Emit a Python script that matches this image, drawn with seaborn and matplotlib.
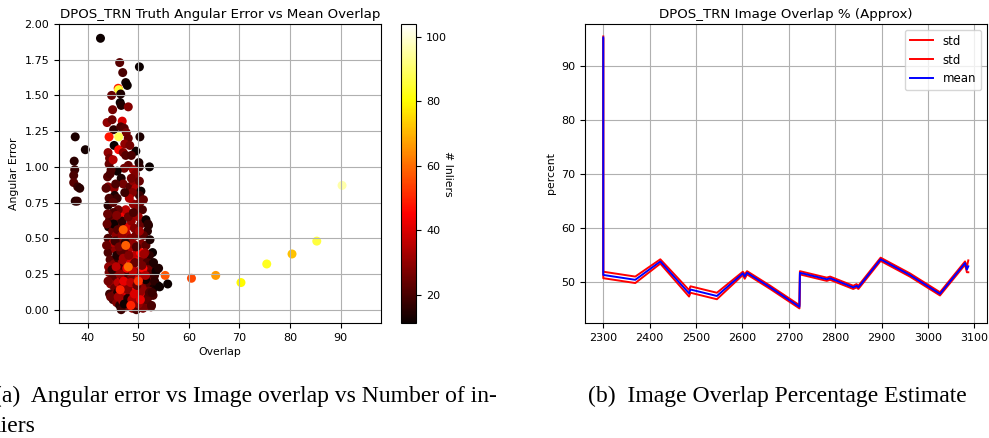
import matplotlib
matplotlib.use("Agg")
import matplotlib.pyplot as plt
import matplotlib.colors as mcolors
import matplotlib.cm as cm
import seaborn as sns
import pandas as pd

# ---------------- data: scatter (overlap, angular error, # inliers) ----------------
overlap = [
    37.5, 39.5, 37.3, 37.4, 37.2, 37.2, 38.0, 38.4, 37.5, 37.9,
    42.5, 50.2, 46.3, 46.9, 47.5, 47.8, 46.0, 46.1, 46.5, 44.7, 46.4, 46.6, 48.0, 44.9, 43.8, 46.8,
    44.8, 45.1, 46.5, 47.2, 47.6, 44.2, 46.1, 50.3, 48.0, 45.2, 46.1, 49.5, 47.3, 48.3, 47.0, 44.0,
    44.3, 44.2, 45.0, 47.5, 48.6, 50.1, 50.2, 52.2, 48.0, 47.2, 45.8, 46.6, 49.0, 49.4, 44.6, 43.9,
    44.0, 45.2, 47.0, 48.3, 49.0, 49.5, 50.5, 50.2, 48.8, 45.3, 44.2, 45.8, 46.8, 47.5, 49.0, 50.3,
    51.0, 44.0, 45.0, 48.2, 49.8, 46.0, 45.0, 48.5, 50.8, 50.0, 44.6,
    44.3, 45.5, 46.2, 47.8, 48.6, 49.2, 50.5, 51.5, 52.0, 51.8, 51.0, 44.1, 44.9, 45.6, 46.5,
    47.6, 48.4, 49.5, 50.2, 44.0, 45.1, 46.8, 48.0, 49.0, 43.9, 45.7,
    44.0, 44.8, 45.5, 46.3, 47.0, 48.2, 49.0, 49.8, 50.6, 51.5, 52.3, 52.8, 52.2, 51.3, 44.4,
    45.2, 46.0, 46.8, 47.6, 48.4, 49.2, 50.0, 50.8, 51.7, 52.4, 44.1, 45.7, 47.2, 48.9, 50.4, 49.6,
    46.5, 45.0, 51.9,
    44.2, 45.0, 45.8, 46.5, 47.2, 48.0, 48.8, 49.5, 50.2, 51.0, 51.8, 52.5, 53.2, 44.5, 45.3, 46.0,
    46.8, 47.5, 48.3, 49.1, 49.9, 50.7, 51.5, 52.3, 53.0, 53.8, 53.2, 44.3, 45.1, 45.9, 46.7, 47.4,
    48.1, 48.9, 49.7, 50.5, 51.3, 52.1, 52.9, 49.3, 47.9, 46.3, 50.9, 44.8, 51.4, 48.6, 47.0,
    45.0, 45.7, 46.3, 46.9, 47.5, 48.2, 48.8, 49.4, 50.0, 50.6, 51.2, 51.8, 52.5, 46.6, 47.9, 49.0,
    50.3, 51.6, 44.5, 46.0, 49.6, 50.9, 47.2, 52.0,
    45.6, 46.4, 47.1, 47.9, 48.7, 49.3, 50.1, 50.8, 51.6, 45.4, 46.2, 47.0, 47.7, 48.5, 49.2, 50.0,
    50.7, 51.4, 52.2, 45.9, 46.7, 47.4, 48.1, 48.9, 49.7, 50.4, 51.1, 45.5, 47.3, 48.6, 50.2,
    43.6, 43.8, 44.0, 53.5, 52.7, 53.0, 52.6, 43.7, 44.4, 51.9,
    47.0, 47.5, 48.0, 48.5, 46.4, 50.0,
    55.3, 55.8, 54.2, 54.0, 60.5, 65.3, 70.3, 75.4, 80.4, 85.3, 90.3,
]
angular_error = [
    1.21, 1.12, 1.04, 0.98, 0.94, 0.89, 0.86, 0.85, 0.76, 0.76,
    1.90, 1.70, 1.73, 1.66, 1.59, 1.57, 1.55, 1.54, 1.51, 1.50, 1.45, 1.43, 1.42, 1.40, 1.31, 1.32,
    1.33, 1.26, 1.28, 1.27, 1.24, 1.21, 1.21, 1.21, 1.20, 1.15, 1.12, 1.11, 1.16, 1.15, 1.10, 1.10,
    1.06, 1.02, 1.05, 1.08, 1.08, 1.03, 1.00, 1.00, 1.01, 0.99, 0.97, 0.92, 0.98, 0.95, 0.98, 0.93,
    0.86, 0.85, 0.88, 0.86, 0.90, 0.85, 0.83, 0.80, 0.82, 0.80, 0.78, 0.78, 0.68, 0.70, 0.74, 0.75,
    0.77, 0.73, 0.75, 0.78, 0.70, 0.70, 0.68, 0.66, 0.70, 0.65, 0.64,
    0.63, 0.62, 0.60, 0.58, 0.62, 0.57, 0.60, 0.63, 0.59, 0.55, 0.52, 0.58, 0.55, 0.52, 0.50,
    0.53, 0.50, 0.52, 0.55, 0.50, 0.60, 0.62, 0.65, 0.68, 0.67, 0.66,
    0.40, 0.45, 0.42, 0.47, 0.44, 0.43, 0.46, 0.42, 0.46, 0.45, 0.49, 0.40, 0.38, 0.40, 0.35,
    0.32, 0.36, 0.33, 0.37, 0.35, 0.38, 0.34, 0.36, 0.33, 0.31, 0.30, 0.38, 0.40, 0.31, 0.40, 0.44,
    0.41, 0.47, 0.28,
    0.26, 0.23, 0.27, 0.24, 0.28, 0.22, 0.26, 0.23, 0.27, 0.24, 0.22, 0.25, 0.24, 0.18, 0.15, 0.19,
    0.16, 0.20, 0.17, 0.19, 0.15, 0.19, 0.16, 0.18, 0.15, 0.17, 0.20, 0.11, 0.10, 0.12, 0.11, 0.13,
    0.10, 0.12, 0.10, 0.12, 0.11, 0.13, 0.10, 0.26, 0.27, 0.29, 0.29, 0.28, 0.21, 0.21, 0.23,
    0.07, 0.05, 0.03, 0.06, 0.02, 0.05, 0.01, 0.06, 0.03, 0.06, 0.02, 0.05, 0.02, 0.00, 0.08, 0.09,
    0.09, 0.08, 0.09, 0.09, -0.00, 0.01, 0.04, 0.09,
    0.30, 0.25, 0.20, 0.14, 0.07, 0.33, 0.22, 0.14, 0.07, 0.48, 0.44, 0.36, 0.29, 0.19, 0.11, 0.04,
    0.31, 0.24, 0.12, 0.56, 0.52, 0.47, 0.38, 0.27, 0.17, 0.07, 0.39, 0.88, 0.82, 0.92, 0.90,
    0.85, 0.60, 0.20, 0.27, 0.12, 0.33, 0.03, 0.45, 0.95, 0.60,
    0.56, 0.45, 0.30, 0.03, 0.14, 0.20,
    0.24, 0.18, 0.16, 0.29, 0.22, 0.24, 0.19, 0.32, 0.39, 0.48, 0.87,
]
inliers = [
    14, 13, 16, 18, 20, 22, 18, 16, 15, 17,
    12, 11, 22, 20, 13, 12, 50, 85, 14, 24, 12, 14, 28, 26, 30, 40,
    25, 16, 20, 22, 26, 48, 88, 14, 24, 11, 46, 12, 30, 26, 28, 30,
    26, 24, 35, 22, 20, 14, 16, 11, 24, 26, 12, 14, 32, 28, 20, 22,
    28, 30, 26, 22, 30, 34, 12, 18, 28, 14, 20, 18, 44, 36, 30, 26,
    24, 15, 22, 34, 28, 24, 20, 38, 20, 32, 18,
    20, 26, 22, 40, 30, 28, 24, 12, 14, 16, 22, 14, 24, 30, 18,
    34, 28, 26, 32, 20, 12, 16, 24, 20, 24, 28,
    20, 24, 30, 26, 38, 34, 30, 24, 28, 22, 14, 12, 16, 30, 22,
    28, 18, 32, 26, 40, 36, 42, 26, 20, 18, 30, 14, 24, 30, 46, 20,
    22, 34, 26,
    26, 22, 28, 34, 30, 40, 36, 44, 38, 30, 26, 22, 18, 30, 24, 36,
    28, 42, 32, 48, 34, 40, 28, 20, 14, 12, 16, 18, 26, 14, 30, 38,
    44, 46, 32, 42, 36, 24, 20, 24, 18, 20, 46, 16, 12, 26, 20,
    20, 28, 16, 34, 26, 40, 30, 44, 38, 46, 34, 28, 22, 18, 14, 24,
    30, 40, 24, 32, 20, 26, 12, 20,
    36, 30, 42, 28, 34, 24, 38, 30, 22, 18, 26, 32, 44, 36, 40, 30,
    26, 34, 20, 22, 30, 16, 28, 36, 24, 42, 32, 20, 18, 26, 24,
    22, 24, 26, 12, 18, 14, 20, 24, 20, 16,
    58, 58, 60, 50, 50, 52,
    57, 11, 12, 14, 55, 66, 80, 83, 72, 86, 96,
]

# ---------------- data: line plot (frame, overlap %) ----------------
frame = [2300, 2300, 2369, 2423, 2485, 2488, 2545, 2601, 2605, 2610, 2660, 2723,
         2724, 2782, 2789, 2839, 2846, 2850, 2898, 2961, 3026, 3080, 3084, 3087]
mean_pct = [95.3, 51.3, 50.4, 53.8, 47.9, 48.6, 47.4, 51.6, 51.0, 51.7, 49.0, 45.4,
            51.7, 50.5, 50.7, 49.0, 49.3, 49.0, 54.2, 51.3, 47.8, 53.5, 52.3, 52.9]
std_upper = [95.5, 51.9, 51.0, 54.2, 48.5, 49.2, 48.0, 51.9, 51.4, 52.0, 49.3, 45.7,
             52.0, 50.8, 51.0, 49.3, 49.6, 49.3, 54.5, 51.6, 48.1, 53.8, 52.8, 54.0]
std_lower = [95.1, 50.7, 49.8, 53.4, 47.3, 48.0, 46.8, 51.3, 50.6, 51.4, 48.7, 45.1,
             51.4, 50.2, 50.4, 48.7, 49.0, 48.7, 53.9, 51.0, 47.5, 53.2, 51.8, 51.8]

captions = ["(a)  Angular error vs Image overlap vs Number of in-", "liers",
            "(b)  Image Overlap Percentage Estimate"]

TICK_FS = 8
LABEL_FS = 7.8
TITLE_FS = 9.6

fig = plt.figure(figsize=(9.89, 4.38), dpi=100)
ax1 = fig.add_axes([0.0597, 0.2626, 0.3255, 0.6826])
cax = fig.add_axes([0.4055, 0.2626, 0.0155, 0.6826])
ax2 = fig.add_axes([0.5915, 0.2626, 0.4065, 0.6826])

# ---------------- left: scatter ----------------
df = pd.DataFrame({"Overlap": overlap, "Angular Error": angular_error, "inliers": inliers})
norm = mcolors.Normalize(vmin=11.3, vmax=104.0)
sns.scatterplot(data=df, x="Overlap", y="Angular Error", hue="inliers", palette="hot",
                hue_norm=norm, s=42, linewidth=0, legend=False, ax=ax1)
ax1.set_xlim(34.3, 98.0)
ax1.set_ylim(-0.093, 2.0)
ax1.set_xticks([40, 50, 60, 70, 80, 90])
ax1.set_yticks([0.0, 0.25, 0.5, 0.75, 1.0, 1.25, 1.5, 1.75, 2.0])
ax1.grid(True, color="#b0b0b0", linewidth=0.8)
ax1.set_title("DPOS_TRN Truth Angular Error vs Mean Overlap", fontsize=TITLE_FS, pad=4)
ax1.set_xlabel("Overlap", fontsize=LABEL_FS, labelpad=3)
ax1.set_ylabel("Angular Error", fontsize=LABEL_FS)
ax1.tick_params(labelsize=TICK_FS)

sm = cm.ScalarMappable(norm=norm, cmap="hot")
cb = fig.colorbar(sm, cax=cax)
cb.set_ticks([20, 40, 60, 80, 100])
cb.ax.tick_params(labelsize=TICK_FS)
cb.set_label("# Inliers", rotation=270, fontsize=LABEL_FS, labelpad=4)

# ---------------- right: line plot ----------------
sns.lineplot(x=frame, y=std_upper, sort=False, estimator=None, color="red",
             linewidth=1.4, label="std", ax=ax2)
sns.lineplot(x=frame, y=std_lower, sort=False, estimator=None, color="red",
             linewidth=1.4, label="std", ax=ax2)
sns.lineplot(x=frame, y=mean_pct, sort=False, estimator=None, color="blue",
             linewidth=1.4, label="mean", ax=ax2)
ax2.set_xlim(2260.6, 3127.4)
ax2.set_ylim(42.4, 97.8)
ax2.set_xticks(list(range(2300, 3101, 100)))
ax2.set_yticks([50, 60, 70, 80, 90])
ax2.grid(True, color="#b0b0b0", linewidth=0.8)
ax2.set_title("DPOS_TRN Image Overlap % (Approx)", fontsize=TITLE_FS, pad=4)
ax2.set_ylabel("percent", fontsize=LABEL_FS)
ax2.tick_params(labelsize=TICK_FS)
ax2.legend(loc="upper right", fontsize=8.5)

# ---------------- captions ----------------
cap_font = dict(family="Liberation Serif", fontsize=17, va="baseline", ha="left")
fig.text(-0.006, 1 - 402 / 438, captions[0], **cap_font)
fig.text(-0.006, 1 - 432 / 438, captions[1], **cap_font)
fig.text(588 / 989, 1 - 402 / 438, captions[2], **cap_font)

fig.savefig("out.png", dpi=100)
